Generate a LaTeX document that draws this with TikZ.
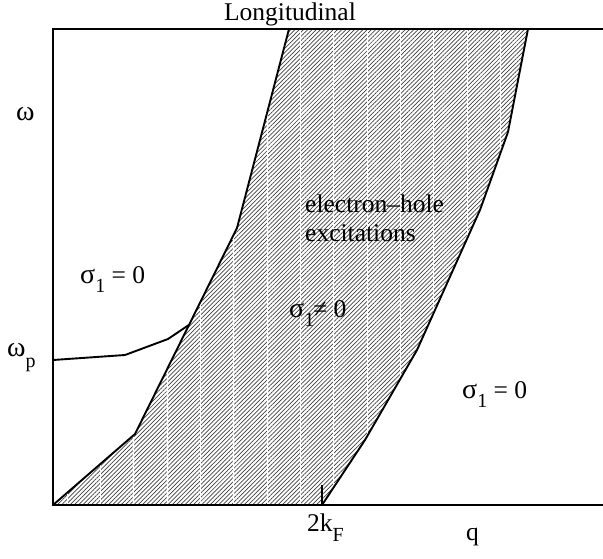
\documentclass[tikz,border=0pt]{standalone}
\usepackage{fontspec}
\setmainfont{Liberation Serif}
\usetikzlibrary{patterns.meta,calc}
\newcommand{\lowsub}[2][9pt]{\raisebox{-#1}{\fontsize{20}{20}\selectfont #2}}
\newcommand{\grk}[1]{{\fontsize{28}{28}\selectfont #1}}
\begin{document}
\begin{tikzpicture}[x=1pt,y=-1pt,
    axis/.style={line width=1.3pt},
    bound/.style={line width=1.9pt, line join=round},
    lbl/.style={inner sep=0pt, anchor=base west, font=\fontsize{25.5}{28}\selectfont},
    band/.style={pattern={Lines[angle=45,distance=3pt,line width=0.7pt]}, pattern color=black!75}
]
\useasboundingbox (0,0) rectangle (603,558);
% edges of the electron-hole continuum
\coordinate (l0) at (53,505);
\coordinate (l1) at (135,434);
\coordinate (l2) at (237,228);
\coordinate (l3) at (289,29);
\coordinate (r0) at (322,505);
\coordinate (r1) at (365,440);
\coordinate (r2) at (417,350);
\coordinate (r3) at (480,210);
\coordinate (r4) at (508,132);
\coordinate (r5) at (528,29);
\coordinate (wp0) at (53,360);
\coordinate (wp3) at ($(l1)!0.53!(l2)$);

% shaded band
\fill[band] (l0) -- (l1) -- (l2) -- (l3) -- (r5) -- (r4) -- (r3) -- (r2) -- (r1) -- (r0) -- cycle;
\begin{scope}
  \clip (l0) -- (l1) -- (l2) -- (l3) -- (r5) -- (r4) -- (r3) -- (r2) -- (r1) -- (r0) -- cycle;
  \foreach \i in {0,...,13}
    \draw[white, line width=0.8pt] ({67+33.33*\i},29) -- ({67+33.33*\i},505);
\end{scope}

% frame
\draw[axis] (603,29) -- (53,29) -- (53,505) -- (603,505);
\draw[axis] (r0) -- ++(0,-20);

% boundaries
\draw[bound] (l0) -- (l1) -- (l2) -- (l3);
\draw[bound] (r0) -- (r1) -- (r2) -- (r3) -- (r4) -- (r5);
\draw[bound] (wp0) -- (125,355) -- (168,339) -- (wp3);

% labels
\node[lbl, anchor=base] (title) at (290,20) {Longitudinal};
\node[lbl] (w) at (16,120) {\grk{ω}};
\node[lbl] (wp) at (7,356) {\grk{ω}\lowsub[11pt]{p}};
\node[lbl] (s1l) at (80,283) {\grk{σ}\lowsub{1} = 0};
\node[lbl] (eh1) at (305,212) {electron–hole};
\node[lbl] (eh2) at (305,241) {excitations};
\node[lbl] (s1m) at (289,317) {\grk{σ}\lowsub{1}\kern-1pt≠ 0};
\node[lbl] (s1r) at (462,398) {\grk{σ}\lowsub{1} = 0};
\node[lbl] (kf) at (307,531) {2k\lowsub[10pt]{F}};
\node[lbl] (q) at (466,540) {q};
\end{tikzpicture}
\end{document}
